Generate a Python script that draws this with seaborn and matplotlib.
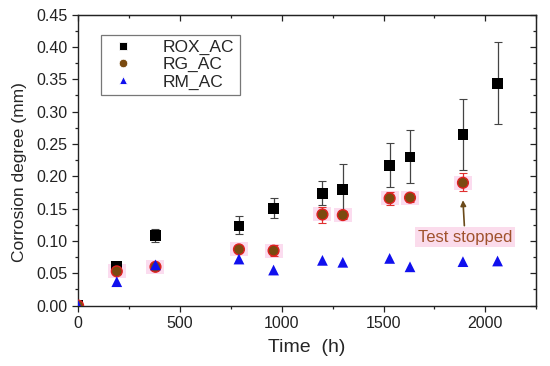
import numpy as np
import pandas as pd
import matplotlib
matplotlib.use("Agg")
import matplotlib.pyplot as plt
from matplotlib.ticker import MultipleLocator, FormatStrFormatter
import seaborn as sns

# time (h)
rox_t = [0, 190, 380, 790, 960, 1200, 1300, 1530, 1630, 1890, 2060]
rox_v = [0.0, 0.060, 0.108, 0.123, 0.150, 0.173, 0.180, 0.217, 0.230, 0.265, 0.344]
rox_lo = [0.0, 0.056, 0.098, 0.110, 0.135, 0.155, 0.140, 0.183, 0.190, 0.210, 0.281]
rox_hi = [0.0, 0.064, 0.118, 0.138, 0.166, 0.193, 0.219, 0.252, 0.272, 0.319, 0.407]

rg_t = [0, 190, 380, 790, 960, 1200, 1300, 1530, 1630, 1890]
rg_v = [0.0, 0.053, 0.060, 0.087, 0.085, 0.141, 0.140, 0.166, 0.167, 0.190]
rg_lo = [0.0, 0.049, 0.057, 0.083, 0.077, 0.128, 0.134, 0.155, 0.160, 0.177]
rg_hi = [0.0, 0.057, 0.064, 0.091, 0.093, 0.153, 0.146, 0.175, 0.174, 0.205]

rm_t = [0, 190, 380, 790, 960, 1200, 1300, 1530, 1630, 1890, 2060]
rm_v = [0.0, 0.037, 0.063, 0.072, 0.055, 0.070, 0.067, 0.073, 0.060, 0.068, 0.069]


def frame(t, v, name):
    return pd.DataFrame({"time": t, "value": v, "series": name})


def main():
    df = pd.concat([frame(rox_t, rox_v, "ROX_AC"),
                    frame(rg_t, rg_v, "RG_AC"),
                    frame(rm_t, rm_v, "RM_AC")], ignore_index=True)

    sns.set_style("ticks")
    plt.rcParams["font.family"] = ["Liberation Sans", "DejaVu Sans"]
    fig, ax = plt.subplots(figsize=(5.5, 3.66), dpi=100)
    fig.subplots_adjust(left=0.142, right=0.975, top=0.96, bottom=0.165)

    # error bars
    rox = np.array(rox_v)
    ax.errorbar(rox_t, rox, yerr=[rox - np.array(rox_lo), np.array(rox_hi) - rox],
                fmt="none", ecolor="#444444", elinewidth=0.9, capsize=3, capthick=0.8, zorder=2)
    rg = np.array(rg_v)
    ax.errorbar(rg_t, rg, yerr=[rg - np.array(rg_lo), np.array(rg_hi) - rg],
                fmt="none", ecolor="#e03030", elinewidth=0.9, capsize=3, capthick=0.8, zorder=2)

    # pink halo behind RG markers
    rect = [(-1.3, -1), (1.3, -1), (1.3, 1), (-1.3, 1), (-1.3, -1)]
    ax.scatter(rg_t[1:], rg_v[1:], s=150, marker=rect, color="#fbdcef", linewidths=0, zorder=1)

    sns.scatterplot(data=df, x="time", y="value", hue="series", style="series",
                    markers={"ROX_AC": "s", "RG_AC": "o", "RM_AC": "^"},
                    palette={"ROX_AC": "black", "RG_AC": "#7a4a10", "RM_AC": "#1010ee"},
                    s=60, ax=ax, zorder=3, legend=True)
    # red edge for RG circles
    sc = ax.collections[-1]
    sc.set_edgecolors(["#e02020" if n == "RG_AC" else "none" for n in df["series"]])
    sc.set_linewidths([1.0 if n == "RG_AC" else 0 for n in df["series"]])

    ax.annotate("Test stopped", xy=(1890, 0.163), xytext=(1900, 0.106),
                ha="center", va="center", fontsize=12, color="#a0522d",
                bbox=dict(boxstyle="square,pad=0.15", fc="#fbdcec", ec="none"),
                arrowprops=dict(arrowstyle="-|>", color="#6b4a1a", lw=1.2,
                                shrinkA=1, shrinkB=0, mutation_scale=8),
                zorder=4)

    ax.set_xlim(0, 2250)
    ax.set_ylim(0, 0.45)
    ax.xaxis.set_major_locator(MultipleLocator(500))
    ax.xaxis.set_minor_locator(MultipleLocator(250))
    ax.yaxis.set_major_locator(MultipleLocator(0.05))
    ax.yaxis.set_minor_locator(MultipleLocator(0.025))
    ax.yaxis.set_major_formatter(FormatStrFormatter("%.2f"))
    ax.tick_params(which="both", direction="out", labelsize=11.5, width=0.9, colors="#222222")
    ax.tick_params(which="major", length=4)
    ax.tick_params(which="minor", length=2.5)
    for s in ax.spines.values():
        s.set_visible(True)
        s.set_linewidth(1.0)
        s.set_color("#222222")

    # inward ticks on top and right
    top = ax.secondary_xaxis("top")
    top.xaxis.set_major_locator(MultipleLocator(500))
    top.xaxis.set_minor_locator(MultipleLocator(250))
    top.tick_params(which="both", direction="in", labeltop=False, width=0.9, colors="#222222")
    top.tick_params(which="major", length=4)
    top.tick_params(which="minor", length=2.5)
    right = ax.secondary_yaxis("right")
    right.yaxis.set_major_locator(MultipleLocator(0.05))
    right.yaxis.set_minor_locator(MultipleLocator(0.025))
    right.tick_params(which="both", direction="in", labelright=False, width=0.9, colors="#222222")
    right.tick_params(which="major", length=4)
    right.tick_params(which="minor", length=2.5)

    ax.set_xlabel("Time  (h)", fontsize=14, labelpad=6)
    ax.set_ylabel("Corrosion degree (mm)", fontsize=12.5)
    ax.yaxis.set_label_coords(-0.112, 0.46)

    leg = ax.legend(loc="upper left", bbox_to_anchor=(0.03, 0.96), fontsize=12.5,
                    frameon=True, fancybox=False, edgecolor="#555555",
                    handletextpad=1.3, borderpad=0.3, labelspacing=0.1, markerscale=0.8)
    leg.get_frame().set_linewidth(0.9)

    fig.savefig("out.png", dpi=100)


if __name__ == "__main__":
    main()
